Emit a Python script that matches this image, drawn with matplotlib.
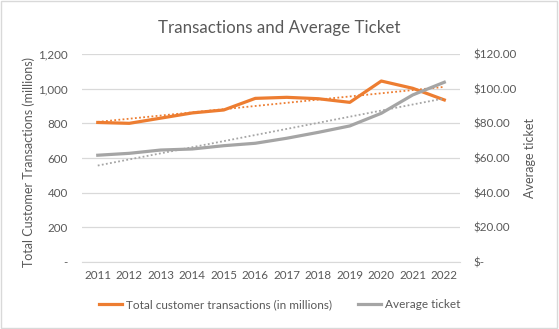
import numpy as np
import matplotlib
matplotlib.use("Agg")
import matplotlib.pyplot as plt
from matplotlib.ticker import FuncFormatter

plt.rcParams['font.family'] = ['Lato', 'DejaVu Sans']

years = ['2011', '2012', '2013', '2014', '2015', '2016',
         '2017', '2018', '2019', '2020', '2021', '2022']
transactions = [805, 800, 830, 860, 877, 944, 950, 942, 921, 1044, 1002, 935]
avg_ticket = [61.6, 62.7, 64.6, 65.2, 67.1, 68.5, 71.4, 74.8, 78.5, 85.8, 96.4, 103.7]

orange = '#ED7D31'
gray = '#A5A5A5'
text_c = '#595959'

fig = plt.figure(figsize=(5.59, 3.29), dpi=100)
fig.patches.append(plt.Rectangle((0.002, 0.003), 0.995, 0.994, transform=fig.transFigure,
                                 fill=False, edgecolor='#D9D9D9', linewidth=1))
ax = fig.add_axes([0.1467, 0.2036, 0.6763, 0.6323])
ax2 = ax.twinx()

x = np.arange(len(years))
ax.plot(x, transactions, color=orange, lw=2.3, solid_joinstyle='round', zorder=3,
        label='Total customer transactions (in millions)')
ax2.plot(x, avg_ticket, color=gray, lw=2.3, solid_joinstyle='round', zorder=3,
         label='Average ticket')

# linear trendlines
p1 = np.polyfit(x, transactions, 1)
ax.plot(x, np.polyval(p1, x), color=orange, lw=1.3, ls=(0, (1, 1.3)), zorder=2)
p2 = np.polyfit(x, avg_ticket, 1)
ax2.plot(x, np.polyval(p2, x), color=gray, lw=1.3, ls=(0, (1, 1.3)), zorder=2)

ax.set_xlim(-0.5, len(years) - 0.5)
ax.set_ylim(0, 1200)
ax2.set_ylim(0, 120)
ax.set_yticks(range(0, 1201, 200))
ax2.set_yticks(range(0, 121, 20))
ax.yaxis.set_major_formatter(FuncFormatter(lambda v, p: '-' if v == 0 else f'{v:,.0f}'))
ax2.yaxis.set_major_formatter(FuncFormatter(lambda v, p: '$-' if v == 0 else f'${v:,.2f}'))
ax.set_xticks(x)
ax.set_xticklabels(years)

ax.grid(axis='y', color='#D9D9D9', lw=0.9)
ax.set_axisbelow(True)
for a in (ax, ax2):
    for s in a.spines.values():
        s.set_visible(False)
    a.tick_params(length=0, labelsize=8.4, colors=text_c)
ax.spines['bottom'].set_visible(True)
ax.spines['bottom'].set_color('#D9D9D9')
ax.tick_params(axis='y', pad=10)
ax.tick_params(axis='x', pad=6)
ax2.tick_params(axis='y', pad=10)

ax.set_ylabel('Total Customer Transactions (millions)', fontsize=9, color=text_c)
ax.yaxis.set_label_coords(-0.125, 0.48)
ax2.set_ylabel('Average ticket', fontsize=9, color=text_c)
ax2.yaxis.set_label_coords(1.168, 0.5)

fig.text(0.5, 0.915, 'Transactions and Average Ticket', ha='center', va='center',
         fontsize=12.2, color=text_c)

h1, l1 = ax.get_legend_handles_labels()
h2, l2 = ax2.get_legend_handles_labels()
fig.legend(h1 + h2, l1 + l2, loc='center', bbox_to_anchor=(0.5, 0.075), ncol=2,
           frameon=False, fontsize=8.5, labelcolor=text_c, handlelength=2.0,
           handletextpad=0.3, columnspacing=2.2)

fig.savefig('out.png', dpi=100)
